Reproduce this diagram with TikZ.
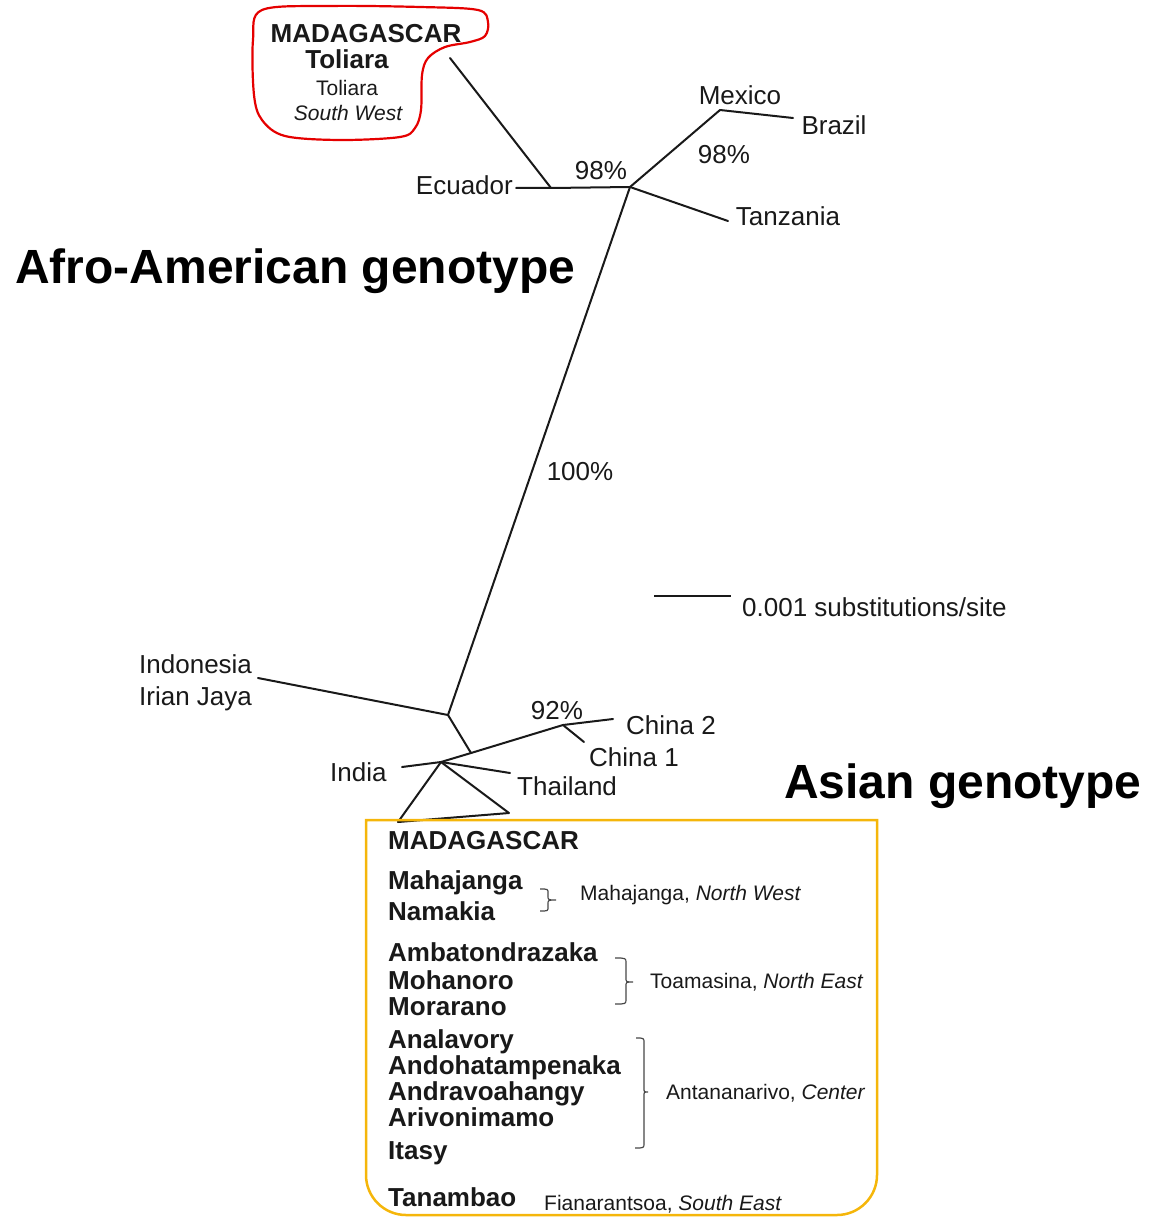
\documentclass[tikz,border=0pt]{standalone}
\usepackage{fontspec}
\setmainfont{Liberation Sans}
\definecolor{boxcol}{RGB}{245,182,10}
\definecolor{ink}{RGB}{25,25,25}
\begin{document}
\begin{tikzpicture}[x=1pt,y=-1pt,
 lbl/.style={inner sep=0pt, yshift=-6pt, text=ink, font=\fontsize{26}{30}\selectfont, text height=0.72em, text depth=0pt},
 blbl/.style={inner sep=0pt, yshift=-5pt, text=ink, font=\bfseries\fontsize{26}{30}\selectfont, text height=0.72em, text depth=0pt},
 slbl/.style={inner sep=0pt, yshift=-4pt, text=ink, font=\fontsize{21}{24}\selectfont, text height=0.72em, text depth=0pt},
 biglbl/.style={inner sep=0pt, yshift=-12pt, text=black, font=\bfseries\fontsize{48}{54}\selectfont, text height=0.72em, text depth=0pt},
 branch/.style={ink, line width=2pt, line cap=round, line join=round},
 brack/.style={ink!80, line width=1.2pt},
]
\useasboundingbox (0,0) rectangle (1154,1217);

% ---- tree coordinates
\coordinate (A) at (551,188);
\coordinate (madtip) at (450,58);
\coordinate (ecutip) at (516,188);
\coordinate (B) at (630,187);
\coordinate (MB) at (720,110);
\coordinate (brtip) at (793,118);
\coordinate (tztip) at (728,221);
\coordinate (C) at (448,715);
\coordinate (indotip) at (258,678);
\coordinate (D) at (471,753);
\coordinate (E) at (563,725);
\coordinate (ch2tip) at (613,719);
\coordinate (ch1tip) at (584,742);
\coordinate (F) at (441,762);
\coordinate (indiatip) at (402,767);
\coordinate (thtip) at (510,773);
\coordinate (t1) at (398,822);
\coordinate (t2) at (509,813);
\coordinate (sb1) at (654,596);
\coordinate (sb2) at (731,596);

% ---- branches
\draw[branch] (madtip) -- (A);
\draw[branch] (ecutip) -- (A) -- (B);
\draw[branch] (B) -- (MB) -- (brtip);
\draw[branch] (B) -- (tztip);
\draw[branch] (B) -- (C);
\draw[branch] (indotip) -- (C);
\draw[branch] (C) -- (D);
\draw[branch] (D) -- (E) -- (ch2tip);
\draw[branch] (E) -- (ch1tip);
\draw[branch] (indiatip) -- (F) -- (D);
\draw[branch] (F) -- (thtip);
\draw[branch] (F) -- (t1) -- (t2) -- cycle;
\draw[ink, line width=1.6pt] (sb1) -- (sb2);

% ---- red outline (Toliara)
\draw[red!90!black, line width=2.2pt] plot[smooth cycle, tension=0.55] coordinates {
 (262,10) (330,6) (420,7) (478,10) (488,22) (485,36) (470,42) (445,47) (428,58)
 (422,75) (421,110) (415,128) (400,137) (340,140) (285,136) (262,120) (254,95) (253,40)};

% ---- orange box
\draw[boxcol, line width=2.5pt] (366,820) -- (877,820) -- (877,1175)
  .. controls (877,1197) and (859,1215) .. (837,1215) -- (406,1215)
  .. controls (384,1215) and (366,1197) .. (366,1175) -- cycle;

% ---- labels top
\node[blbl] (madA) at (366,34) {MADAGASCAR};
\node[blbl] (tolA) at (347,60) {Toliara};
\node[slbl] (tolB) at (347,88) {Toliara};
\node[slbl] (sw) at (348,113) {\itshape South West};
\node[lbl, anchor=east] (ecu) at (513,185) {Ecuador};
\node[lbl] (p98a) at (601,170) {98\%};
\node[lbl] (mex) at (740,95) {Mexico};
\node[lbl] (bra) at (834,125) {Brazil};
\node[lbl] (p98b) at (724,154) {98\%};
\node[lbl] (tza) at (788,216) {Tanzania};
\node[biglbl, anchor=west] (afro) at (15,268) {Afro-American genotype};
\node[lbl] (p100) at (580,471) {100\%};
\node[lbl, anchor=west] (scale) at (742,607) {0.001 substitutions/site};
\node[lbl, anchor=west] (indo) at (139,664) {Indonesia};
\node[lbl, anchor=west] (irian) at (139,696) {Irian Jaya};
\node[lbl] (p92) at (557,710) {92\%};
\node[lbl, anchor=west] (ch2) at (626,725) {China 2};
\node[lbl, anchor=west] (ch1) at (589,757) {China 1};
\node[lbl, anchor=west] (india) at (330,772) {India};
\node[lbl, anchor=west] (thai) at (517,786) {Thailand};
\node[biglbl, anchor=west] (asian) at (784,783) {Asian genotype};

% ---- box labels
\node[blbl, anchor=west] (madB) at (388,841) {MADAGASCAR};
\node[blbl, anchor=west] (mah) at (388,881) {Mahajanga};
\node[blbl, anchor=west] (nam) at (388,912) {Namakia};
\node[blbl, anchor=west] (amb) at (388,953) {Ambatondrazaka};
\node[blbl, anchor=west] (moh) at (388,981) {Mohanoro};
\node[blbl, anchor=west] (mor) at (388,1007) {Morarano};
\node[blbl, anchor=west] (ana) at (388,1040) {Analavory};
\node[blbl, anchor=west] (and) at (388,1066) {Andohatampenaka};
\node[blbl, anchor=west] (anv) at (388,1092) {Andravoahangy};
\node[blbl, anchor=west] (ari) at (388,1118) {Arivonimamo};
\node[blbl, anchor=west] (ita) at (388,1151) {Itasy};
\node[blbl, anchor=west] (tan) at (388,1198) {Tanambao};

\node[slbl, anchor=west] (rNW) at (580,893) {Mahajanga, \itshape North West};
\node[slbl, anchor=west] (rNE) at (650,981) {Toamasina, \itshape North East};
\node[slbl, anchor=west] (rC) at (666,1092) {Antananarivo, \itshape Center};
\node[slbl, anchor=west] (rSE) at (544,1203) {Fianarantsoa, \itshape South East};

% ---- brackets
\draw[brack] (540,889) .. controls (548,889) .. (548,893) -- (548,896)
  .. controls (548,900) .. (556,900) .. controls (548,900) .. (548,904) -- (548,907)
  .. controls (548,911) .. (540,911);
\draw[brack] (615,958) .. controls (626,958) .. (626,963) -- (626,978)
  .. controls (626,982) .. (633,982) .. controls (626,982) .. (626,986) -- (626,999)
  .. controls (626,1004) .. (615,1004);
\draw[brack] (636,1038) .. controls (644,1038) .. (644,1043) -- (644,1088)
  .. controls (644,1092) .. (648,1092) .. controls (644,1092) .. (644,1096) -- (644,1143)
  .. controls (644,1148) .. (635,1148);
\end{tikzpicture}
\end{document}
